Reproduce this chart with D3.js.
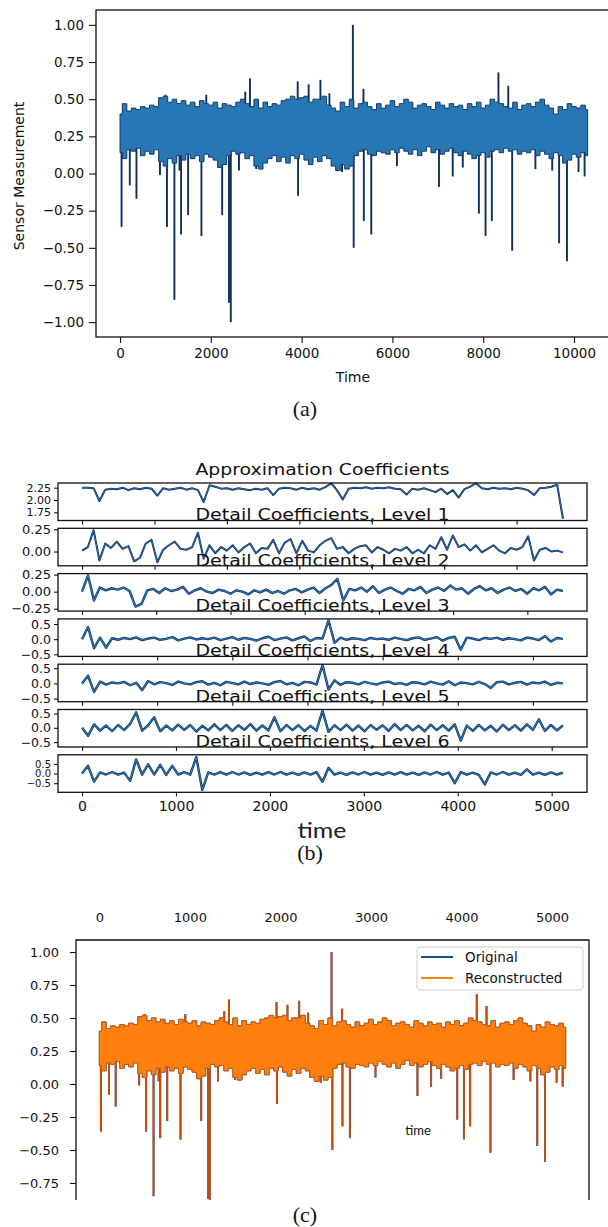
<!DOCTYPE html>
<html><head><meta charset="utf-8">
<script src="https://cdn.jsdelivr.net/npm/d3@7"></script>
<style>
body{margin:0;background:#fff}
svg{display:block}
</style></head>
<body><svg id="chart" width="608" height="1227"></svg>
<script>
// ================= DATA =================
// Panel (a)/(c): sensor signal, every 100 time units: upper and lower edge of the dense band
const sensorStep = 100;
const sensorUpper = [0.40,0.47,0.42,0.44,0.43,0.45,0.44,0.46,0.45,0.51,
 0.52,0.48,0.50,0.47,0.49,0.46,0.48,0.45,0.49,0.47,
 0.46,0.48,0.44,0.47,0.46,0.45,0.48,0.50,0.47,0.45,
 0.50,0.44,0.48,0.45,0.47,0.46,0.49,0.50,0.52,0.50,
 0.51,0.52,0.48,0.50,0.50,0.52,0.46,0.44,0.42,0.48,
 0.45,0.50,0.44,0.47,0.48,0.45,0.43,0.47,0.44,0.46,
 0.49,0.45,0.47,0.50,0.48,0.44,0.46,0.47,0.45,0.43,
 0.48,0.46,0.44,0.47,0.45,0.46,0.43,0.47,0.45,0.48,
 0.44,0.46,0.50,0.48,0.47,0.45,0.44,0.48,0.43,0.46,
 0.47,0.45,0.48,0.50,0.46,0.44,0.40,0.45,0.43,0.47,
 0.45,0.44,0.46,0.43];
const sensorLower = [0.14,0.10,0.16,0.15,0.17,0.12,0.15,0.13,0.16,0.08,
 0.05,0.10,0.07,0.12,0.09,0.13,0.10,0.12,0.08,0.13,
 0.11,0.09,0.04,0.06,0.12,0.15,0.13,0.14,0.10,0.12,
 0.05,0.03,0.07,0.10,0.12,0.08,0.11,0.07,0.12,0.10,
 0.13,0.09,0.06,0.11,0.08,0.12,0.10,0.05,0.02,0.06,
 0.03,0.05,0.12,0.15,0.16,0.13,0.12,0.15,0.14,0.13,
 0.16,0.14,0.17,0.15,0.13,0.16,0.12,0.15,0.18,0.14,
 0.16,0.13,0.15,0.17,0.14,0.12,0.15,0.13,0.10,0.12,
 0.14,0.11,0.15,0.16,0.14,0.17,0.15,0.16,0.13,0.15,
 0.14,0.16,0.12,0.15,0.13,0.10,0.14,0.12,0.07,0.09,
 0.13,0.11,0.14,0.12];
// isolated spikes [time, value]
const sensorSpikes = [[34,-0.36],[215,-0.08],[362,-0.17],[880,-0.01],[1000,0.53],[1034,-0.36],[1198,-0.85],
 [1310,0.02],[1345,-0.41],[1500,-0.28],[1793,-0.42],[1900,0.53],[2250,-0.28],[2400,-0.87],[2440,-1.00],
 [2620,0.02],[2759,0.55],[2862,0.64],[3000,0.03],[3914,0.62],[3922,-0.15],[4155,0.60],[4414,0.63],
 [4612,0.54],[4890,0.01],[5129,1.00],[5147,-0.50],[5362,0.57],[5370,-0.32],[5534,-0.41],[6100,0.05],
 [7026,-0.09],[7328,-0.02],[7550,0.04],[7905,-0.27],[8052,-0.42],[8190,-0.32],[8336,0.68],[8552,0.59],
 [8638,-0.52],[9150,0.03],[9520,0.02],[9672,-0.47],[9845,-0.59],[10100,0.01],[10233,-0.02]];

const aXTicks = [0,2000,4000,6000,8000,10000];
const aYTicks = [-1.00,-0.75,-0.50,-0.25,0.00,0.25,0.50,0.75,1.00];

// Panel (b): wavelet coefficients
const approxCoeffs = [2.25,2.25,2.24,1.98,2.21,2.23,2.22,2.25,2.20,2.24,
 2.22,2.25,2.23,2.09,2.24,2.21,2.23,2.25,2.21,2.24,
 2.20,1.96,2.30,2.27,2.23,2.24,2.21,2.24,2.22,2.20,
 2.23,2.21,2.24,2.10,2.23,2.25,2.24,2.21,2.25,2.22,
 2.24,2.21,2.26,2.34,2.20,2.01,2.23,2.25,2.24,2.26,
 2.23,2.25,2.24,2.26,2.23,2.22,2.11,2.23,2.21,2.24,
 2.20,2.16,2.23,2.12,2.20,2.05,2.22,2.27,2.34,2.24,
 2.22,2.25,2.23,2.24,2.22,2.25,2.23,2.20,2.10,2.24,
 2.25,2.27,2.31,1.62];
const detail1 = [0.01,0.05,0.24,-0.10,0.09,0.04,0.11,0.03,0.06,-0.11,
 -0.07,0.09,0.13,-0.12,0.02,0.07,0.11,0.03,0.02,0.05,
 0.21,-0.08,0.07,-0.02,0.05,0.01,0.07,-0.01,0.05,0.09,
 -0.02,0.04,0.03,0.13,-0.02,0.10,0.14,-0.02,0.12,0.01,
 -0.01,0.07,0.12,0.15,0.03,0.05,-0.02,0.03,0.06,0.07,
 -0.01,0.05,0.02,-0.02,0.03,0.01,0.05,-0.02,0.02,-0.02,
 0.07,0.03,0.16,0.02,0.18,0.05,0.08,0.01,0.07,-0.01,
 0.03,0.07,0.01,-0.02,0.04,0.02,0.05,0.17,-0.10,0.02,
 0.04,0.00,0.01,-0.01];
const detail2 = [0.00,0.24,-0.13,0.06,0.02,0.05,0.03,0.06,0.01,-0.22,
 -0.18,0.02,0.04,-0.02,0.05,0.01,0.03,0.07,-0.03,0.02,
 0.05,0.00,-0.02,0.03,0.01,-0.03,0.02,0.00,-0.04,0.02,
 -0.01,0.03,-0.02,0.01,-0.03,0.02,0.04,-0.01,0.03,0.06,
 -0.02,0.05,0.10,0.19,-0.13,0.04,0.02,0.06,0.00,0.08,
 -0.02,0.03,0.06,0.01,-0.03,0.04,0.02,0.07,-0.02,0.03,
 0.06,0.01,0.09,0.03,0.05,-0.03,0.04,0.08,0.02,0.05,
 -0.02,0.03,0.06,0.01,0.04,-0.03,0.05,0.02,0.07,-0.04,
 0.03,0.01];
const detail3 = [0.00,0.40,-0.30,0.05,-0.28,0.03,-0.02,0.04,0.00,0.06,
 -0.03,0.02,0.05,-0.02,0.01,0.07,-0.04,0.02,0.06,-0.01,
 0.03,0.00,0.05,-0.03,0.02,0.07,-0.02,0.04,0.01,-0.05,
 0.03,0.08,-0.03,0.02,0.06,-0.04,0.03,0.09,-0.06,0.04,
 0.02,0.62,-0.12,0.05,-0.02,0.03,0.01,-0.03,0.04,0.00,
 0.02,-0.02,0.05,0.01,-0.03,0.03,0.06,-0.02,0.02,0.07,
 -0.05,0.04,0.08,-0.35,0.05,0.02,-0.03,0.04,0.01,0.05,
 -0.02,0.03,0.00,-0.04,0.05,0.02,-0.03,0.10,-0.08,0.04,
 0.01];
const detail4 = [0.00,0.25,-0.28,0.06,-0.04,0.03,0.00,0.05,-0.06,0.02,
 -0.22,0.08,-0.03,0.04,0.01,-0.05,0.06,0.00,-0.03,0.04,
 0.07,-0.04,0.02,-0.06,0.05,0.01,-0.03,0.06,-0.02,0.03,
 0.00,-0.05,0.04,0.08,-0.03,0.02,-0.06,0.05,0.03,-0.04,
 0.60,-0.20,0.10,-0.05,0.04,0.02,-0.03,0.05,0.00,-0.04,
 0.03,0.06,-0.02,0.01,-0.05,0.04,0.02,-0.03,0.06,0.00,
 -0.04,0.07,-0.06,0.03,0.01,-0.03,0.05,-0.02,-0.15,0.04,
 0.06,-0.03,0.02,0.05,-0.04,0.03,0.00,0.06,-0.05,0.02,
 0.00];
const detail5 = [0.00,-0.28,0.12,-0.10,0.08,-0.12,0.10,-0.08,0.14,0.54,
 -0.10,0.09,0.37,-0.12,0.08,-0.09,0.11,-0.07,0.10,-0.13,
 0.07,-0.09,0.12,-0.08,0.10,-0.11,0.09,-0.07,0.13,-0.10,
 0.08,-0.09,0.37,-0.12,0.10,-0.08,0.09,-0.11,0.07,-0.10,
 0.60,-0.14,0.09,-0.08,0.11,-0.10,0.08,-0.12,0.10,-0.07,
 0.09,-0.11,0.13,-0.08,0.10,-0.09,0.07,-0.12,0.11,-0.08,
 0.09,-0.10,0.12,-0.45,0.08,-0.11,0.10,-0.09,0.07,-0.13,
 0.11,-0.08,0.09,-0.10,0.12,-0.07,0.30,-0.11,0.10,-0.09,
 0.08];
const detail6 = [0.00,0.40,-0.42,0.06,-0.05,0.08,-0.06,0.05,-0.38,0.73,
 -0.06,0.48,-0.05,0.45,-0.07,0.40,-0.05,0.07,-0.06,0.85,
 -0.85,0.06,-0.05,0.07,-0.06,0.08,-0.05,0.06,-0.07,0.05,
 -0.06,0.07,-0.05,0.08,-0.06,0.05,-0.07,0.06,-0.05,0.07,
 -0.43,0.30,-0.06,0.05,-0.07,0.06,-0.05,0.08,-0.06,0.05,
 -0.07,0.06,-0.05,0.07,-0.06,0.05,-0.07,0.06,-0.05,0.08,
 -0.06,0.05,-0.50,0.07,-0.06,0.05,-0.07,-0.56,0.06,-0.05,
 0.08,-0.06,0.05,-0.07,0.22,-0.06,0.05,-0.07,0.06,-0.05,
 0.04];
const coefTitles = ["Approximation Coefficients","Detail Coefficients, Level 1","Detail Coefficients, Level 2",
 "Detail Coefficients, Level 3","Detail Coefficients, Level 4","Detail Coefficients, Level 5","Detail Coefficients, Level 6"];
const coefValues = [approxCoeffs, detail1, detail2, detail3, detail4, detail5, detail6];
const coefIndexStep = [2,2,4,8,16,32,64];
const coefXTickStep = [25,25,50,100,200,500,1000];
const coefYDomain = [[1.585,2.345],[-0.16,0.26],[-0.285,0.265],[-0.57,0.67],[-0.60,0.63],[-0.67,0.64],[-0.97,0.97]];
const coefYTicks = [[1.75,2.00,2.25],[0.00,0.25],[-0.25,0.00,0.25],[-0.5,0,0.5],[-0.5,0,0.5],[-0.5,0,0.5],[-0.5,0,0.5]];
const coefYFormat = [".2f",".2f",".2f",".1f",".1f",".1f",".1f"];

// Panel (c)
const cTopTicks = [0,1000,2000,3000,4000,5000];
const cYTicks = [-0.75,-0.50,-0.25,0.00,0.25,0.50,0.75,1.00];
const legendLabels = ["Original","Reconstructed"];

// ================= DRAW =================
const FONT = "'DejaVu Sans', sans-serif";
const svg = d3.select("#chart");

function styleAxis(g, size){
  g.select(".domain").remove();
  g.attr("font-family", FONT).attr("font-size", size);
  g.selectAll(".tick line").attr("stroke","#111").attr("stroke-width",1.1);
  g.selectAll(".tick text").attr("fill","#111");
}

function drawSignal(g, x, y, tScale, core, edge, spikeColor){
  const idx = d3.range(sensorUpper.length);
  g.selectAll(null).data(sensorSpikes).join("line")
    .attr("x1", d => x(d[0]*tScale)).attr("x2", d => x(d[0]*tScale))
    .attr("y1", y(0.28))
    .attr("y2", d => y(d[1]))
    .attr("stroke", spikeColor).attr("stroke-width", 1.9);
  const area = d3.area()
    .x(i => x(i*sensorStep*tScale))
    .y0(i => y(sensorLower[i]))
    .y1(i => y(sensorUpper[i]))
    .curve(d3.curveStep);
  g.append("path").datum(idx).attr("d", area).attr("fill", core)
    .attr("stroke", edge).attr("stroke-width", 1).attr("stroke-linejoin","miter");
}

// ---------- Panel (a) ----------
const gA = svg.append("g");
const xA = d3.scaleLinear().domain([-529, 10815]).range([96, 611]);
const yA = d3.scaleLinear().domain([-1.1, 1.1]).range([337, 10]);
drawSignal(gA, xA, yA, 1, "#2677b4", "#123a6c", "#0d2f5c");
gA.append("rect").attr("x",96).attr("y",10).attr("width",520).attr("height",327)
  .attr("fill","none").attr("stroke","#111").attr("stroke-width",1.3);
gA.append("g").attr("transform","translate(96,0)")
  .call(d3.axisLeft(yA).tickValues(aYTicks).tickFormat(d3.format(".2f")).tickSize(7).tickPadding(5))
  .call(g => styleAxis(g, 13.5));
gA.append("g").attr("transform","translate(0,337)")
  .call(d3.axisBottom(xA).tickValues(aXTicks).tickFormat(d3.format("d")).tickSize(6).tickPadding(5))
  .call(g => styleAxis(g, 13.5));
gA.append("text").attr("x",353).attr("y",382).attr("text-anchor","middle")
  .attr("font-family",FONT).attr("font-size",14).attr("fill","#111").text("Time");
gA.append("text").attr("transform","translate(24,176) rotate(-90)").attr("text-anchor","middle")
  .attr("font-family",FONT).attr("font-size",14).attr("fill","#111").text("Sensor Measurement");
svg.append("text").attr("x",305).attr("y",416).attr("text-anchor","middle")
  .attr("font-family","'Liberation Serif', serif").attr("font-size",22).attr("fill","#111").text("(a)");

// ---------- Panel (b) ----------
const gB = svg.append("g");
const bLeft = 58, bRight = 587, bTop0 = 483, bGap = 45.3, bH = 37.5;
const coefLabelSize = [11,13,13,12.5,12.5,12.5,10];
coefValues.forEach((vals, k) => {
  const top = bTop0 + k*bGap;
  const maxIdx = (vals.length-1)*coefIndexStep[k];
  const x = d3.scaleLinear().domain([-maxIdx*0.05, maxIdx*1.05]).range([bLeft, bRight]);
  const y = d3.scaleLinear().domain(coefYDomain[k]).range([top+bH, top]);
  const g = gB.append("g");
  const ln = d3.line().x((v,i) => x(i*coefIndexStep[k])).y(v => y(v));
  g.append("path").datum(vals).attr("d", ln)
    .attr("fill","none").attr("stroke","#0e2f5e").attr("stroke-width", k < 2 ? 2.0 : 2.4).attr("stroke-linejoin","round");
  g.append("path").datum(vals).attr("d", ln)
    .attr("fill","none").attr("stroke","#2c78b6").attr("stroke-width", k < 2 ? 0.8 : 1.1).attr("stroke-linejoin","round");
  g.append("rect").attr("x",bLeft).attr("y",top).attr("width",bRight-bLeft).attr("height",bH)
    .attr("fill","none").attr("stroke","#111").attr("stroke-width",1.3);
  g.append("g").attr("transform",`translate(${bLeft},0)`)
    .call(d3.axisLeft(y).tickValues(coefYTicks[k]).tickFormat(d3.format(coefYFormat[k])).tickSize(4).tickPadding(3))
    .call(a => styleAxis(a, coefLabelSize[k]));
  g.append("g").attr("transform",`translate(0,${top+bH})`)
    .call(d3.axisBottom(x).tickValues(d3.range(0, maxIdx+1, coefXTickStep[k]))
      .tickFormat(k === coefValues.length-1 ? d3.format("d") : () => "").tickSize(4).tickPadding(5))
    .call(a => styleAxis(a, 14));
  g.append("text").attr("x",(bLeft+bRight)/2).attr("y",top-8).attr("text-anchor","middle")
    .attr("font-family",FONT).attr("font-size",16).attr("fill","#111")
    .attr("textLength",254).attr("lengthAdjust","spacingAndGlyphs").text(coefTitles[k]);
});
gB.append("text").attr("x",322).attr("y",838).attr("text-anchor","middle")
  .attr("font-family","Lato, sans-serif").attr("font-size",21).attr("fill","#222")
  .attr("textLength",49).attr("lengthAdjust","spacingAndGlyphs").text("time");
svg.append("text").attr("x",310).attr("y",860).attr("text-anchor","middle")
  .attr("font-family","'Liberation Serif', serif").attr("font-size",22).attr("fill","#111").text("(b)");

// ---------- Panel (c) ----------
const gC = svg.append("g");
const xC = d3.scaleLinear().domain([-257.5, 5407.5]).range([76, 589]);
const yC = d3.scaleLinear().domain([-1.1, 1.1]).range([1229.2, 938.8]);
svg.append("clipPath").attr("id","clipC").append("rect").attr("x",76).attr("y",940).attr("width",513).attr("height",260);
const gCd = gC.append("g").attr("clip-path","url(#clipC)");
drawSignal(gCd, xC, yC, 0.5, "#1f4e8c", "#1f4e8c", "#1f4e8c");
drawSignal(gCd, xC, yC, 0.5, "#ff7f0e", "#cc5a0c", "#c24c0e");
gC.append("path").attr("d","M76,1200V940H589V1200").attr("fill","none").attr("stroke","#111").attr("stroke-width",1.3);
gC.append("g").attr("transform","translate(76,0)")
  .call(d3.axisLeft(yC).tickValues(cYTicks).tickFormat(d3.format(".2f")).tickSize(6).tickPadding(11))
  .call(g => styleAxis(g, 13));
gC.append("g").attr("transform","translate(0,940)")
  .call(d3.axisTop(xC).tickValues(cTopTicks).tickFormat(d3.format("d")).tickSize(0).tickPadding(18))
  .call(g => styleAxis(g, 13));
// legend
const lg = gC.append("g");
lg.append("rect").attr("x",417).attr("y",947).attr("width",166).attr("height",43).attr("rx",3)
  .attr("fill","#fff").attr("fill-opacity",0.85).attr("stroke","#ccc");
const legendColors = ["#1f4e8c","#ff7f0e"];
legendLabels.forEach((lab,i) => {
  lg.append("line").attr("x1",421).attr("x2",453).attr("y1",957+i*21).attr("y2",957+i*21)
    .attr("stroke",legendColors[i]).attr("stroke-width",2);
  lg.append("text").attr("x",465).attr("y",962+i*21).attr("font-family",FONT).attr("font-size",13.5)
    .attr("fill","#111").text(lab);
});
gC.append("text").attr("x",418).attr("y",1135).attr("text-anchor","middle")
  .attr("font-family","Lato, sans-serif").attr("font-size",13).attr("fill","#111").text("time");
svg.append("text").attr("x",305).attr("y",1222).attr("text-anchor","middle")
  .attr("font-family","'Liberation Serif', serif").attr("font-size",22).attr("fill","#111").text("(c)");
</script>
</body></html>
